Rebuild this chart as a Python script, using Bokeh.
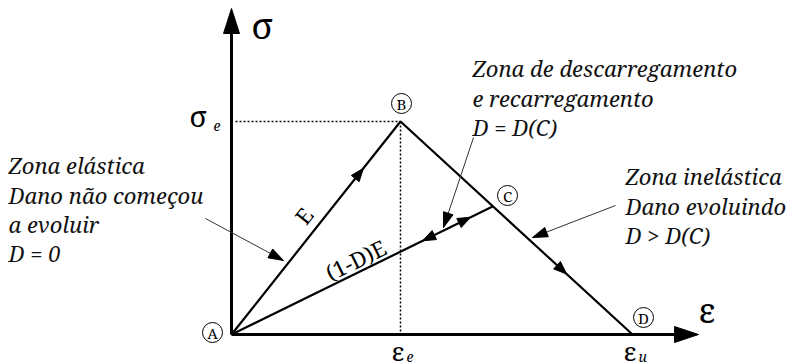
import math
from bokeh.plotting import figure
from bokeh.models import Range1d
from bokeh.core.properties import value
from bokeh.embed import file_html
from bokeh.resources import INLINE

# Stress-strain path of the damage model, in units of eps_e and sigma_e
point_names = ["A", "B", "C", "D"]
strain = [0.0, 1.0, 1.545, 2.373]
stress = [0.0, 1.0, 0.601, 0.0]

# Axis / threshold labels
axis_labels = ["σ", "ε"]
text_left = ["Zona elástica", "Dano não começou", "a evoluir", "D = 0"]
text_unload = ["Zona de descarregamento", "e recarregamento", "D = D(C)"]
text_inelastic = ["Zona inelástica", "Dano evoluindo", "D > D(C)"]
slope_labels = ["E", "(1-D)E"]

W, H = 788, 363
X_RANGE = (-1.367, 3.296)
Y_RANGE = (-0.136, 1.568)
SX = W / (X_RANGE[1] - X_RANGE[0])
SY = H / (Y_RANGE[1] - Y_RANGE[0])

SERIF = value("Noto Serif")
# Greek glyphs come out lower than Latin ones at the same baseline
GREEK_DROP = 0.34


def to_px(x, y):
    return ((x - X_RANGE[0]) * SX, (Y_RANGE[1] - y) * SY)


def from_px(u, v):
    return (X_RANGE[0] + u / SX, Y_RANGE[1] - v / SY)


def lerp(p, q, t):
    return (p[0] + (q[0] - p[0]) * t, p[1] + (q[1] - p[1]) * t)


def head(tip, frm, length, half):
    """Filled triangular arrow head (sizes in screen pixels) pointing at tip."""
    tu, tv = to_px(*tip)
    fu, fv = to_px(*frm)
    dx, dy = tu - fu, tv - fv
    n = math.hypot(dx, dy)
    ux, uy = dx / n, dy / n
    bu, bv = tu - ux * length, tv - uy * length
    pts = [(tu, tv), (bu - uy * half, bv + ux * half), (bu + uy * half, bv - ux * half)]
    xs, ys = zip(*[from_px(*q) for q in pts])
    return list(xs), list(ys)


def screen_angle(p, q):
    (pu, pv), (qu, qv) = to_px(*p), to_px(*q)
    return math.atan2(pv - qv, qu - pu)


def label(x_px, y_px, txt, size, italic=False, align="left", baseline="alphabetic", angle=0.0):
    xd, yd = from_px(x_px, y_px)
    p.text([xd], [yd], text=[txt], angle=angle, text_font=SERIF, text_font_size=f"{size}px",
           text_font_style="italic" if italic else "normal",
           text_align=align, text_baseline=baseline, text_color="black")


def greek(x_px, bottom_px, txt, size):
    label(x_px, bottom_px - GREEK_DROP * size, txt, size)


p = figure(width=W, height=H, output_backend="svg", toolbar_location=None,
           x_range=Range1d(*X_RANGE), y_range=Range1d(*Y_RANGE),
           min_border=0, outline_line_color=None)
p.axis.visible = False
p.grid.visible = False
p.background_fill_color = "white"

A, B, C, D = [(strain[i], stress[i]) for i in range(4)]
ox, oy = to_px(*A)

# --- axes with arrow heads ---
y_tip = from_px(ox, 8)
x_tip = from_px(698, oy)
y_base = from_px(ox, 30)
x_base = from_px(676, oy)
p.line([A[0], y_base[0]], [A[1], y_base[1]], line_width=3, line_color="black")
p.line([A[0], x_base[0]], [A[1], x_base[1]], line_width=3, line_color="black")

heads_x, heads_y = [], []
for tip, L, h in [(y_tip, 25, 8), (x_tip, 24, 8)]:
    hx, hy = head(tip, A, L, h)
    heads_x.append(hx)
    heads_y.append(hy)

# --- dotted guides to the elastic limit ---
p.line([from_px(ox + 4, 0)[0], B[0]], [B[1], B[1]], line_dash="2 2", line_width=1.5, line_color="black")
p.line([B[0], B[0]], [B[1], A[1]], line_dash="2 2", line_width=1.5, line_color="black")

# --- loading path and unloading branch ---
p.line([A[0], B[0], D[0]], [A[1], B[1], D[1]], line_width=2.2, line_color="black")
p.line([A[0], C[0]], [A[1], C[1]], line_width=2.2, line_color="black")

for (p0, p1, t) in [(A, B, 0.78), (A, C, 0.916), (C, A, 0.268), (B, D, 0.716)]:
    tip = lerp(p0, p1, t)
    hx, hy = head(tip, p0, 13, 5)
    heads_x.append(hx)
    heads_y.append(hy)

# --- pointers from the zone descriptions ---
pointers = [((205, 218), (283, 260)), ((473, 137), (443, 227)), ((615, 205), (532, 237))]
for s, e in pointers:
    s_d, e_d = from_px(*s), from_px(*e)
    p.line([s_d[0], e_d[0]], [s_d[1], e_d[1]], line_width=1, line_color="#333333")
    hx, hy = head(e_d, s_d, 15, 5)
    heads_x.append(hx)
    heads_y.append(hy)

p.patches(heads_x, heads_y, fill_color="black", line_color="black", line_width=1)

# --- circled point markers ---
marker_px = [(212, 332), (401, 103), (507, 195), (643, 317)]
mx, my = zip(*[from_px(*m) for m in marker_px])
p.scatter(list(mx), list(my), marker="circle", size=20, fill_color=None,
          line_color="black", line_width=1)
p.text(list(mx), list(my), text=point_names, text_font=SERIF, text_font_size="15px",
       text_align="center", text_baseline="middle", text_color="black")

# --- axis symbols ---
greek(251, 37, axis_labels[0], 36)
greek(698, 321, axis_labels[1], 34)

# sigma_e at the peak stress
bx, by = to_px(*B)
greek(189, by + 4, "σ", 29)
label(213, by + 4, "e", 14, italic=True)

# eps_e and eps_u under the strain axis
for xval, sub in [(B[0], "e"), (D[0], "u")]:
    u, _ = to_px(xval, 0)
    greek(u - 9, 359, "ε", 26)
    label(u + 6, 356, sub, 14, italic=True)

# --- slope labels along the branches ---
label(303, 215, slope_labels[0], 22, align="center", baseline="middle",
      angle=screen_angle(A, B))
label(355, 259, slope_labels[1], 22, align="center", baseline="middle",
      angle=screen_angle(A, C))

# --- zone descriptions ---
def block(lines, x_px, baselines_px, size="22px"):
    xs, ys = [], []
    for b in baselines_px:
        xd, yd = from_px(x_px, b)
        xs.append(xd)
        ys.append(yd)
    p.text(xs, ys, text=lines, text_font=SERIF, text_font_size=size,
           text_font_style="italic", text_align="left", text_baseline="alphabetic",
           text_color="#111111")

block(text_left, 8, [164, 194, 223, 252])
block(text_unload, 472, [67, 97, 126])
block(text_inelastic, 625, [175, 205, 234])

open("out.html", "w").write(file_html(p, INLINE))
